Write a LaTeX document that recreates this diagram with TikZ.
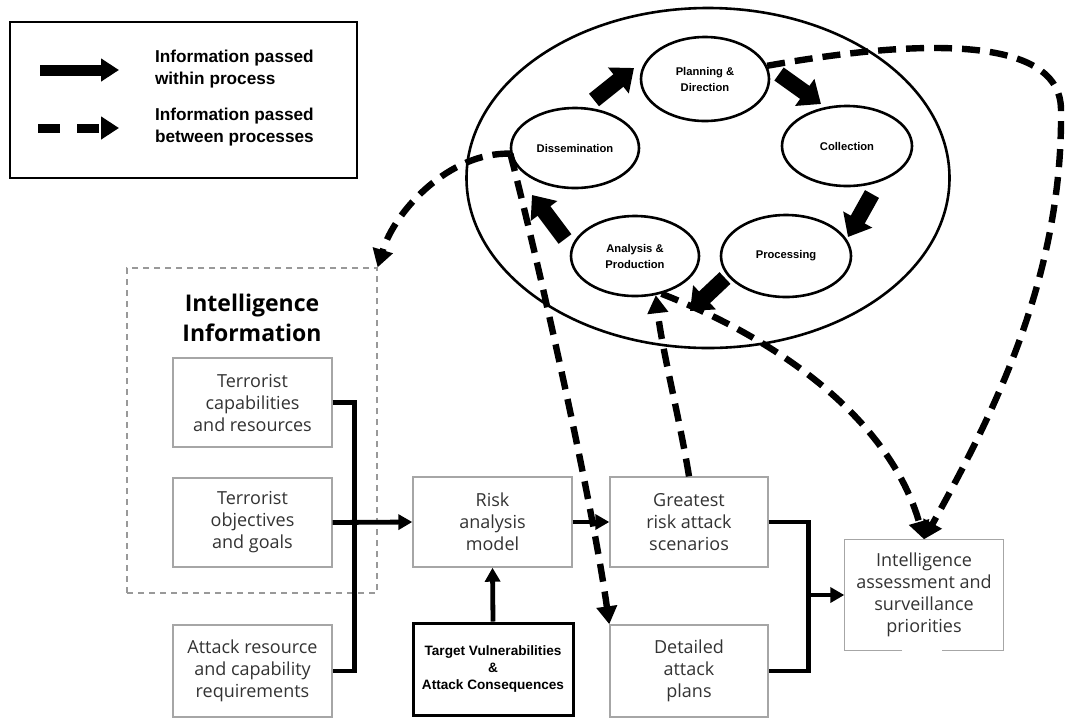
\documentclass[tikz,border=0pt]{standalone}
\usepackage{fontspec}
\setmainfont{Open Sans}
\newfontfamily\heavy{Liberation Sans}
\usetikzlibrary{arrows.meta,shapes.geometric}
\begin{document}
\begin{tikzpicture}[x=0.5pt,y=-0.5pt,
  graybox/.style={draw=black!35, line width=0.7pt, rectangle, align=center, inner sep=0pt, text=black!80, font=\fontsize{9}{11}\selectfont},
  cyc/.style={draw, ellipse, line width=1.3pt, inner sep=0pt, align=center, font=\heavy\bfseries\fontsize{5.6}{8}\selectfont},
  flowarrow/.style={line width=2.4pt, -{Triangle[length=7pt,width=7.5pt]}},
  flowline/.style={line width=2.4pt},
  blockarrow/.style={line width=8pt, -{Triangle[length=10pt,width=16pt]}},
  dashflow/.style={line width=3.2pt, dash pattern=on 9pt off 5pt, -{Triangle[length=9pt,width=10pt]}},
  legtext/.style={anchor=west, align=left, font=\heavy\bfseries\fontsize{8.6}{11}\selectfont},
]
\fill[white] (0,0) rectangle (1066,719);
\useasboundingbox (0,0) rectangle (1066,719);

% legend
\node[draw, line width=1pt, minimum width=173.5pt, minimum height=78pt, inner sep=0pt] (legend) at (183.5,100) {};
\coordinate (l1s) at (40,70);
\coordinate (l1e) at (119,70);
\draw[line width=5.5pt, -{Triangle[length=9pt,width=11pt]}] (l1s) -- (l1e);
\node[legtext] (lt1) at (148,69) {Information passed\\within process};
\coordinate (l2s) at (38,128);
\coordinate (l2e) at (119,128);
\draw[line width=4.5pt, dash pattern=on 11pt off 8.5pt, -{Triangle[length=9pt,width=11pt]}] (l2s) -- (l2e);
\node[legtext] (lt2) at (148,127) {Information passed\\between processes};

% intelligence cycle
\node[draw, ellipse, line width=1.3pt, minimum width=241.5pt, minimum height=170pt, inner sep=0pt] (outer) at (708,178) {};
\node[cyc, minimum width=64pt, minimum height=42pt] (pd) at (705,79) {Planning \&\\Direction};
\node[cyc, minimum width=65pt, minimum height=40pt] (col) at (847,146) {Collection};
\node[cyc, minimum width=65pt, minimum height=41pt] (proc) at (786,256) {Processing};
\node[cyc, minimum width=64pt, minimum height=40pt] (ana) at (635,256) {Analysis \&\\Production};
\node[cyc, minimum width=64pt, minimum height=40pt] (dis) at (575,148) {Dissemination};

\coordinate (b1s) at (594,100); \coordinate (b1e) at (634,68);
\coordinate (b2s) at (779,74);  \coordinate (b2e) at (821,104);
\coordinate (b3s) at (872,194); \coordinate (b3e) at (848,237);
\coordinate (b4s) at (725,278); \coordinate (b4e) at (690,311);
\coordinate (b5s) at (565,239); \coordinate (b5e) at (532,195);
\draw[blockarrow] (b1s) -- (b1e);
\draw[blockarrow] (b2s) -- (b2e);
\draw[blockarrow] (b3s) -- (b3e);
\draw[blockarrow] (b4s) -- (b4e);
\draw[blockarrow] (b5s) -- (b5e);

% lower part
\node[draw=black!40, line width=0.6pt, dash pattern=on 3pt off 2.5pt, minimum width=125pt, minimum height=162.5pt, inner sep=0pt] (intel) at (252,430.5) {};
\node[font=\bfseries\fontsize{11.5}{15}\selectfont, align=center] (intelt) at (252,318) {Intelligence\\Information};
\node[graybox, minimum width=79.5pt, minimum height=44.5pt] (tcr) at (252.5,402.5) {Terrorist\\capabilities\\and resources};
\node[graybox, minimum width=79.5pt, minimum height=44.5pt] (tog) at (252.5,522.5) {Terrorist\\objectives\\and goals};
\node[graybox, minimum width=79.5pt, minimum height=46pt] (arc) at (252.5,671) {Attack resource\\and capability\\requirements};
\node[graybox, minimum width=79.5pt, minimum height=45pt] (risk) at (492.5,522) {Risk\\analysis\\model};
\node[graybox, minimum width=79pt, minimum height=45pt] (grs) at (689,522) {Greatest\\risk attack\\scenarios};
\node[graybox, minimum width=79pt, minimum height=46pt] (dap) at (689,671) {Detailed\\attack\\plans};
\node[draw, line width=1.5pt, minimum width=80pt, minimum height=46pt, inner sep=0pt, align=center, font=\heavy\bfseries\fontsize{6.8}{8.5}\selectfont] (tva) at (493,669) {Target Vulnerabilities\\\&\\Attack Consequences};
\node[graybox, draw=none, minimum width=79pt, minimum height=55pt] (ias) at (924,595) {Intelligence\\assessment and\\surveillance\\priorities};
\draw[black!35, line width=0.7pt] ([xshift=-11pt]ias.south) -| (ias.north west) -- (ias.north east) |- ([xshift=9pt]ias.south);

\draw[flowline] (tcr.east) -- ++(22,0) coordinate (jl) |- (arc.east);
\draw[flowarrow] (tog.east) -- (risk.west);
\draw[flowarrow] (tva.north) -- (risk.south);
\draw[flowarrow] (risk.east) -- (grs.west);
\draw[flowline] (grs.east) -- ++(40,0) coordinate (jr) |- (dap.east);
\coordinate (jm) at (808,595);
\draw[flowarrow] (jm) -- (ias.west);

% dashed connectors
\coordinate (rt) at (1061,110);
\draw[dashflow] (dis.185) .. controls (450,152) and (395,210) .. (intel.north east);
\draw[dashflow] (dis.185) .. controls (538,260) and (592,500) .. (dap.north west);
\draw[dashflow] (grs.north) .. controls (680,420) and (662,350) .. (ana.-62);
\draw[dashflow] (ana.-55) .. controls (780,340) and (890,420) .. (ias.north);
\draw[dashflow] (pd.12) .. controls (900,42) and (1061,30) .. (rt) .. controls (1063,280) and (990,420) .. (ias.north);
\end{tikzpicture}
\end{document}
